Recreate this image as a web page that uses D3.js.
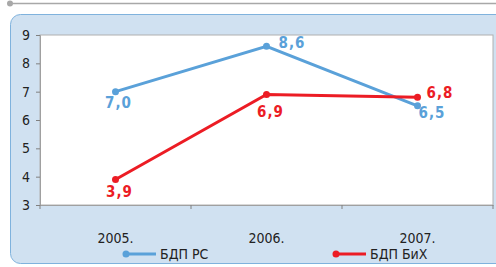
<!DOCTYPE html>
<html><head><meta charset="utf-8">
<script src="https://cdn.jsdelivr.net/npm/d3@7"></script>
<style>body{margin:0;background:#fff}svg{display:block}</style>
</head><body>
<script>
const categories = ["2005.", "2006.", "2007."];
const seriesNames = ["БДП РС", "БДП БиХ"];
const valuesRS = [7.0, 8.6, 6.5];
const valuesBiH = [3.9, 6.9, 6.8];
const yTicks = [3, 4, 5, 6, 7, 8, 9];

const W = 496, H = 267;
const svg = d3.select("body").append("svg").attr("width", W).attr("height", H);
const font = "'DejaVu Sans Condensed', 'DejaVu Sans', sans-serif";

// top rule
svg.append("line").attr("x1", 10).attr("x2", 496).attr("y1", 3.5).attr("y2", 3.5)
  .attr("stroke", "#a8a8a8").attr("stroke-width", 1.5);
svg.append("circle").attr("cx", 10).attr("cy", 3.5).attr("r", 3).attr("fill", "#a8a8a8");

// panel
svg.append("rect").attr("x", 10.5).attr("y", 14.5).attr("width", 500).attr("height", 249)
  .attr("rx", 10).attr("fill", "#d0e1f1").attr("stroke", "#7fb2dd").attr("stroke-width", 1);

const x = d3.scaleBand().domain(categories).range([40, 493]);
const y = d3.scaleLinear().domain([3, 9]).range([205, 35]);

// plot area
svg.append("rect").attr("x", 40).attr("y", 35).attr("width", 453).attr("height", 170)
  .attr("fill", "#fff").attr("stroke", "#b0b0b0").attr("stroke-width", 1);

// y axis
const ya = svg.append("g").attr("transform", "translate(40,0)")
  .call(d3.axisLeft(y).tickValues(yTicks).tickSize(4).tickPadding(6).tickFormat(d3.format("d")));
ya.select(".domain").attr("stroke", "#a0a0a0");
ya.selectAll(".tick line").attr("stroke", "#808080");
ya.selectAll("text").attr("font-family", font).attr("font-size", 14).attr("fill", "#222");

// x axis
const xa = svg.append("g").attr("transform", "translate(0,205)")
  .call(d3.axisBottom(x).tickSize(0).tickPadding(0));
xa.select(".domain").attr("stroke", "#a0a0a0");
xa.selectAll(".tick line").remove();
xa.selectAll("text").attr("font-family", font).attr("font-size", 14).attr("fill", "#222")
  .attr("dy", 0).attr("y", 38);
// category boundary ticks
const bounds = [40].concat(categories.map(c => x(c) + x.bandwidth()));
svg.selectAll(".btick").data(bounds).enter().append("line")
  .attr("x1", d => d).attr("x2", d => d).attr("y1", 205).attr("y2", 209)
  .attr("stroke", "#808080");

const blue = "#5aa1d9", red = "#ec1c24";
const cx = c => x(c) + x.bandwidth() / 2;
const line = d3.line().x((d, i) => cx(categories[i])).y(d => y(d));

function drawSeries(vals, color, offsets) {
  svg.append("path").attr("d", line(vals)).attr("fill", "none")
    .attr("stroke", color).attr("stroke-width", 3);
  svg.selectAll(null).data(vals).enter().append("circle")
    .attr("cx", (d, i) => cx(categories[i])).attr("cy", d => y(d)).attr("r", 3.5).attr("fill", color);
  svg.selectAll(null).data(vals).enter().append("text")
    .attr("x", (d, i) => cx(categories[i]) + offsets[i][0])
    .attr("y", (d, i) => y(d) + offsets[i][1])
    .attr("text-anchor", (d, i) => offsets[i][2])
    .attr("font-family", font).attr("font-size", 15).attr("font-weight", "bold")
    .attr("letter-spacing", 1)
    .attr("fill", color).text(d => d3.format(".1f")(d).replace(".", ","));
}
drawSeries(valuesRS, blue, [[3, 16, "middle"], [12, 2, "start"], [1, 12, "start"]]);
drawSeries(valuesBiH, red, [[4, 17, "middle"], [4, 22, "middle"], [9, 1, "start"]]);

// legend
const leg = [{name: seriesNames[0], color: blue, x: 126}, {name: seriesNames[1], color: red, x: 336}];
leg.forEach(l => {
  svg.append("line").attr("x1", l.x).attr("x2", l.x + 30).attr("y1", 254).attr("y2", 254)
    .attr("stroke", l.color).attr("stroke-width", 3);
  svg.append("circle").attr("cx", l.x).attr("cy", 254).attr("r", 3.5).attr("fill", l.color);
  svg.append("text").attr("x", l.x + 34).attr("y", 259).attr("font-family", font)
    .attr("font-size", 14).attr("fill", "#222").text(l.name);
});
</script>
</body></html>
